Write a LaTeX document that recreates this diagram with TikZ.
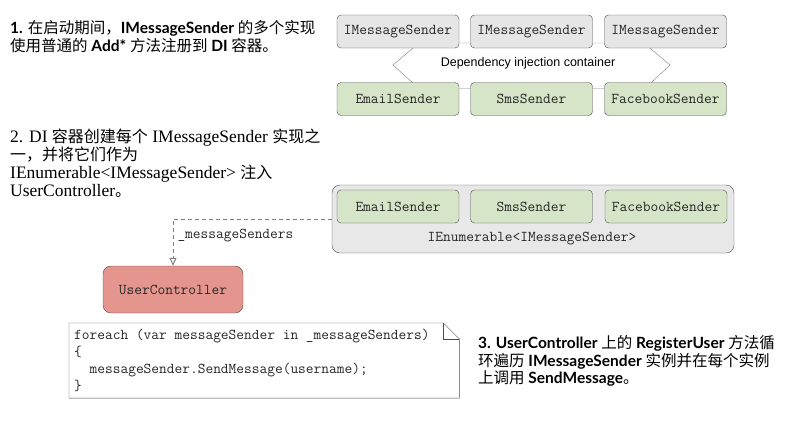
\documentclass[tikz,border=0pt]{standalone}
\usepackage{fontspec}
\setmainfont{Liberation Serif}
\newfontfamily\cjk{Noto Sans CJK SC}
\newfontfamily\gill{Lato}
\newfontfamily\helv{Liberation Sans}
\usetikzlibrary{arrows.meta}
\definecolor{ifacegray}{HTML}{E6E6E6}
\definecolor{contgray}{HTML}{E8E8E8}
\definecolor{implgreen}{HTML}{D6E4C8}
\definecolor{ucred}{HTML}{E4968E}
\definecolor{linegray}{HTML}{4D4D4D}
\definecolor{hexgray}{HTML}{808080}
\newcommand\zh[1]{{\cjk\mdseries #1}}
\newcommand\zhs[1]{{\cjk\fontsize{16}{18}\selectfont #1}}
\newcommand\codesp{\hphantom{x}}
\begin{document}
\begin{tikzpicture}[x=1pt,y=-1pt,
    every node/.style={inner sep=0pt},
    srvbox/.style={draw=linegray,rounded corners=4pt,minimum width=122pt,
        minimum height=33pt,font=\ttfamily\fontsize{15}{17}\selectfont,text=black!85},
    ifacebox/.style={srvbox,fill=ifacegray},
    implbox/.style={srvbox,fill=implgreen},
    monolabel/.style={font=\ttfamily\fontsize{15}{17}\selectfont,text=black!85},
    note/.style={anchor=north west,align=left}]
    \useasboundingbox (0,0) rectangle (803,424);
    % container of the DI registrations
    \draw[draw=hexgray,fill=white] (419,43) -- (644,43) -- (670,65) -- (645,88.5)
        -- (419,88.5) -- (393,65) -- cycle;
    \node[ifacebox] (if1) at (398,31.5) {IMessageSender};
    \node[ifacebox] (if2) at (531.5,31.5) {IMessageSender};
    \node[ifacebox] (if3) at (665.5,31.5) {IMessageSender};
    \node[font=\helv\fontsize{12.5}{14}\selectfont] (dic) at (528,63) {Dependency injection container};
    \node[implbox] (email) at (398,99) {EmailSender};
    \node[implbox] (sms) at (531.5,99) {SmsSender};
    \node[implbox] (fb) at (665.5,99) {FacebookSender};
    % injected collection
    \node[draw=linegray,fill=contgray,rounded corners=8pt,minimum width=402pt,
        minimum height=68pt] (cont) at (533,219) {};
    \node[implbox] (email2) at (398,206.5) {EmailSender};
    \node[implbox] (sms2) at (531.5,206.5) {SmsSender};
    \node[implbox] (fb2) at (666,206.5) {FacebookSender};
    \node[monolabel] (enum) at (532,239) {IEnumerable<IMessageSender>};
    \node[srvbox,fill=ucred,rounded corners=8pt,minimum width=140pt,
        minimum height=47pt] (uc) at (173,289.5) {UserController};
    \draw[hexgray,line width=1pt,dash pattern=on 4pt off 3pt,
        -{Triangle[open,length=8pt,width=7pt]}]
        (cont.west) -| node[monolabel,pos=.68,anchor=west,xshift=4pt] {\_messageSenders} (uc.north);
    % loop over the senders
    \node[note,inner xsep=5pt,inner ysep=6pt,text width=380pt,
        font=\ttfamily\fontsize{15}{17}\selectfont,text=black!85] (code) at (69,323)
        {foreach\codesp(var\codesp messageSender\codesp in\codesp\_messageSenders)\\
         \{\\
         \codesp\codesp messageSender.SendMessage(username);\\
         \}};
    \draw[linegray] (code.north west) -- ([xshift=-16pt]code.north east)
        -- ([yshift=-16pt]code.north east) -- (code.south east) -- (code.south west) -- cycle;
    \draw[linegray] ([xshift=-16pt]code.north east) |- ([yshift=-16pt]code.north east);
    % step notes
    \node[note,font=\gill\bfseries\fontsize{15.5}{18}\selectfont] (step1) at (10,20)
        {1. \zh{在启动期间，}IMessageSender \zh{的多个实现}\\
         \zh{使用普通的} Add* \zh{方法注册到} DI \zh{容器。}};
    \node[note,font=\fontsize{17.5}{18}\selectfont] (step2) at (10,129)
        {2. DI \zhs{容器创建每个} IMessageSender \zhs{实现之}\\
         \zhs{一，并将它们作为}\\
         IEnumerable<IMessageSender> \zhs{注入}\\
         UserController\zhs{。}};
    \node[note,font=\gill\bfseries\fontsize{15.5}{17.7}\selectfont] (step3) at (478,335)
        {3. UserController \zh{上的} RegisterUser \zh{方法循}\\
         \zh{环遍历} IMessageSender \zh{实例并在每个实例}\\
         \zh{上调用} SendMessage\zh{。}};
\end{tikzpicture}
\end{document}
